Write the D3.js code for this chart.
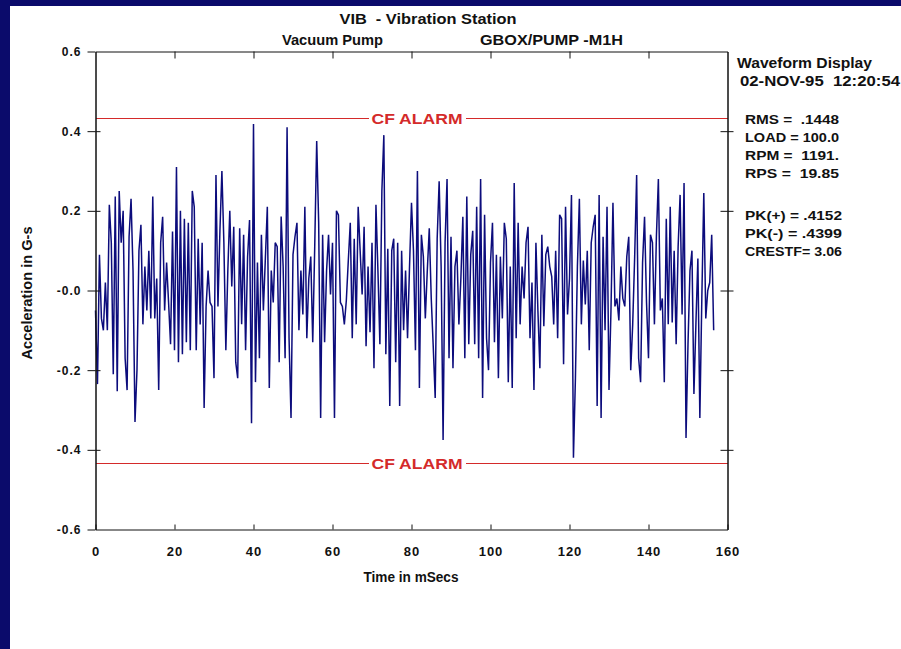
<!DOCTYPE html>
<html>
<head>
<meta charset="utf-8">
<script src="https://cdn.jsdelivr.net/npm/d3@7"></script>
<style>
  body { margin: 0; background: #fff; }
  svg text { font-family: "Liberation Sans", Arial, sans-serif; font-weight: bold; fill: #111; }
</style>
</head>
<body>
<div id="chart"></div>
<script>
// sample spacing of the waveform, mSecs
var sampleMs = 0.5;

// acceleration in G-s
var accel = [
  -0.05, -0.235, 0.09, -0.07, -0.10, 0.02, -0.10, 0.215, 0.12, -0.21,
  0.236, -0.253, 0.25, 0.12, 0.20, -0.17, -0.25, 0.135, 0.23, 0.05,
  -0.33, -0.20, 0.10, 0.165, -0.085, 0.06, -0.05, 0.10, -0.07, 0.236,
  -0.07, 0.03, -0.25, 0.12, 0.185, -0.05, 0.07, -0.03,
  -0.135, 0.148, -0.15, 0.31, -0.18, 0.20, -0.16, 0.18, -0.13, 0.17,
  -0.15, 0.25, 0.21, -0.15, 0.13, -0.085, 0.12, -0.295, -0.04, 0.05,
  -0.03, -0.04, -0.22, 0.29, -0.04, 0.15, 0.30, 0.12, -0.15, 0.05,
  0.20, 0.01, 0.16, -0.18, -0.22, 0.156, -0.085, 0.14, -0.15, 0.084,
  0.177, -0.333, 0.418, -0.23, 0.07, -0.17, 0.14, -0.05, 0.08, 0.21,
  -0.245, 0.05, -0.03, 0.12, 0.11, -0.18, 0.186, 0.06, -0.17, 0.41,
  -0.12, -0.32, 0.09, 0.135, 0.17, -0.10, 0.05, -0.06, 0.21, -0.12,
  0.03, 0.085, -0.13, 0.11, 0.375, 0.17, -0.32, 0.14, -0.13,
  0.05, 0.14, -0.01, 0.12, -0.32, 0.20, 0.19, -0.03, -0.04, -0.085,
  -0.025, 0.075, 0.17, -0.12, 0.13, -0.085, 0.21, 0.10, -0.01, 0.16,
  -0.14, 0.06, -0.105, 0.12, -0.195, 0.215, 0.05, -0.135, 0.25, 0.39,
  -0.16, 0.105, -0.29, 0.10, 0.13, -0.18, 0.12, -0.29, 0.10, -0.10,
  0.05, -0.12, 0.06, 0.22, 0.10, -0.15, 0.30, -0.245, 0.14, 0.085,
  -0.07, 0.05, 0.156, -0.02, -0.14, -0.27, 0.13, 0.274, 0.06, -0.375,
  0.12, 0.28, -0.17, 0.135, -0.195, 0.06, 0.10, -0.085, 0.03, 0.185,
  -0.17, 0.236, -0.135, 0.09, 0.15, -0.135, 0.21, -0.17, 0.28,
  -0.27, 0.19, -0.12, -0.20, 0.07, 0.17, -0.13, 0.09, -0.22, 0.085,
  -0.07, 0.17, 0.13, -0.23, 0.06, -0.245, 0.27, -0.12, 0.17, -0.085,
  0.06, -0.02, 0.12, 0.16, -0.12, 0.02, -0.25, 0.12, -0.05, -0.195,
  0.14, -0.09, 0.09, 0.11, 0.06, 0.035, -0.085, 0.10, -0.12, 0.19,
  0.18, -0.185, 0.21, -0.06, 0.03, 0.24, -0.42, -0.22, 0.06, 0.23,
  -0.085, 0.075, -0.035, 0.10, -0.15, 0.12, 0.16, 0.19, -0.29, 0.24,
  -0.32, 0.135, -0.10, 0.21, -0.25, -0.05, 0.22, -0.04, -0.02, -0.075,
  0.06, -0.02, -0.04, 0.085, 0.135, -0.20, -0.085, 0.085, 0.29,
  -0.17, -0.23, 0.07, 0.185, -0.03, -0.17, 0.14, 0.12, -0.085, 0.135,
  0.28, -0.05, -0.02, -0.23, 0.18, -0.085, 0.21, -0.08, 0.10, -0.135,
  0.11, 0.24, -0.06, 0.27, -0.37, -0.135, 0.05, 0.10, -0.26, -0.085,
  0.08, -0.32, -0.02, 0.245, -0.07, 0.0, 0.02, 0.14, -0.10
];

var xTicks = [0, 20, 40, 60, 80, 100, 120, 140, 160];
var yTicks = [-0.6, -0.4, -0.2, 0, 0.2, 0.4, 0.6];
var yTickLabels = ["-0.6", "-0.4", "-0.2", "-0.0", "0.2", "0.4", "0.6"];
var alarmLevels = [0.433, -0.433];
var alarmLabel = "CF ALARM";

var chartTitle = "VIB  - Vibration Station";
var machineName = "Vacuum Pump";
var pointName = "GBOX/PUMP -M1H";
var displayLines = ["Waveform Display", "02-NOV-95  12:20:54"];
var statLines = ["RMS =  .1448", "LOAD = 100.0", "RPM =  1191.", "RPS =  19.85"];
var peakLines = ["PK(+) = .4152", "PK(-) = .4399", "CRESTF= 3.06"];
var xTitle = "Time in mSecs";
var yTitle = "Acceleration in G-s";

var svg_dx = 901,
  svg_dy = 649,
  plot = { left: 95.5, right: 727.5, top: 51.5, bottom: 529.5 };

var navy = "#0b0b6b",
  traceColor = "#0c0c7c",
  alarmColor = "#d42a2a";

var xScale = d3.scaleLinear().domain([0, 160]).range([plot.left, plot.right]);
var yScale = d3.scaleLinear().domain([-0.6, 0.6]).range([plot.bottom, plot.top]);

var svg = d3.select("#chart")
  .append("svg")
  .attr("width", svg_dx)
  .attr("height", svg_dy);

svg.append("rect").attr("width", svg_dx).attr("height", svg_dy).attr("fill", "#fff");

// dark frame round the window
svg.append("rect").attr("x", 0).attr("y", 0).attr("width", 10).attr("height", svg_dy).attr("fill", navy);
svg.append("rect").attr("x", 0).attr("y", 0).attr("width", svg_dx).attr("height", 6).attr("fill", navy);

function addText(txt, x, y, size, width, anchor) {
  var t = svg.append("text")
    .attr("x", x)
    .attr("y", y)
    .style("white-space", "pre")
    .style("font-size", size + "px")
    .text(txt);
  if (anchor) t.attr("text-anchor", anchor);
  if (width) t.attr("textLength", width).attr("lengthAdjust", "spacingAndGlyphs");
  return t;
}

// header
addText(chartTitle, 428, 24, 14, 177, "middle");
addText(machineName, 282, 45, 14, 101);
addText(pointName, 480, 45, 14, 143);

// right hand panel
addText(displayLines[0], 737, 68, 14, 135);
addText(displayLines[1], 740, 86, 14, 160);
statLines.forEach(function(s, i) {
  addText(s, 745, 124 + i * 18, 13.5, 94);
});
peakLines.forEach(function(s, i) {
  addText(s, 745, 220 + i * 18, 13.5, 97);
});

// alarm lines with their label
var labelX = 417, labelW = 91;
var alarms = svg.append("g").attr("class", "alarms");
alarmLevels.forEach(function(v) {
  var yy = Math.round(yScale(v));
  [[xScale(0), labelX - labelW / 2 - 3], [labelX + labelW / 2 + 3, xScale(160)]].forEach(function(seg) {
    alarms.append("rect")
      .attr("x", seg[0])
      .attr("y", yy)
      .attr("width", seg[1] - seg[0])
      .attr("height", 1)
      .attr("fill", alarmColor)
      .attr("shape-rendering", "crispEdges");
  });
  addText(alarmLabel, labelX, yy + 6, 14, labelW, "middle")
    .style("fill", alarmColor);
});

// waveform
var line = d3.line()
  .x(function(d, i) { return xScale(i * sampleMs); })
  .y(function(d) { return yScale(d); });

svg.append("path")
  .datum(accel)
  .attr("d", line)
  .attr("fill", "none")
  .attr("stroke", traceColor)
  .attr("stroke-width", 1.5)
  .attr("stroke-linejoin", "miter")
  .attr("stroke-miterlimit", 2);

// axes
var axis_y = d3.axisLeft(yScale)
  .tickValues(yTicks)
  .tickSize(8)
  .tickSizeOuter(0)
  .tickPadding(6)
  .tickFormat(function(d, i) { return yTickLabels[i]; });

svg.append("g")
  .attr("id", "axis_y")
  .attr("transform", "translate(" + plot.left + ",0)")
  .call(axis_y);

svg.append("g")
  .attr("transform", "translate(" + plot.left + ",0)")
  .call(d3.axisRight(yScale).tickValues(yTicks.slice(1, -1)).tickSize(5).tickSizeOuter(0).tickFormat(""));

svg.append("g")
  .attr("transform", "translate(" + plot.right + ",0)")
  .call(d3.axisRight(yScale).tickValues(yTicks.slice(1, -1)).tickSize(6).tickSizeOuter(0).tickFormat(""));
svg.append("g")
  .attr("transform", "translate(" + plot.right + ",0)")
  .call(d3.axisLeft(yScale).tickValues(yTicks.slice(1, -1)).tickSize(7).tickSizeOuter(0).tickFormat(""));

var axis_x = d3.axisBottom(xScale)
  .tickValues(xTicks)
  .tickSize(-5)
  .tickSizeOuter(0)
  .tickPadding(17)
  .tickFormat(d3.format("d"));

svg.append("g")
  .attr("id", "axis_x")
  .attr("transform", "translate(0," + plot.bottom + ")")
  .call(axis_x);

svg.append("g")
  .attr("transform", "translate(0," + plot.top + ")")
  .call(d3.axisTop(xScale).tickValues(xTicks.slice(1, -1)).tickSize(-7).tickSizeOuter(0).tickFormat(""));

svg.selectAll(".domain, .tick line").attr("stroke", "#111");
svg.selectAll("#axis_y text").style("font-size", "12px").style("letter-spacing", "1px").attr("fill", "#111");
svg.selectAll("#axis_x text").style("font-size", "13px").style("letter-spacing", "1px").attr("fill", "#111");

// axis titles
addText(xTitle, 411, 582, 14, 95, "middle");
addText(yTitle, 0, 0, 14, 133, "middle")
  .attr("transform", "translate(32,293) rotate(-90)");
</script>
</body>
</html>
